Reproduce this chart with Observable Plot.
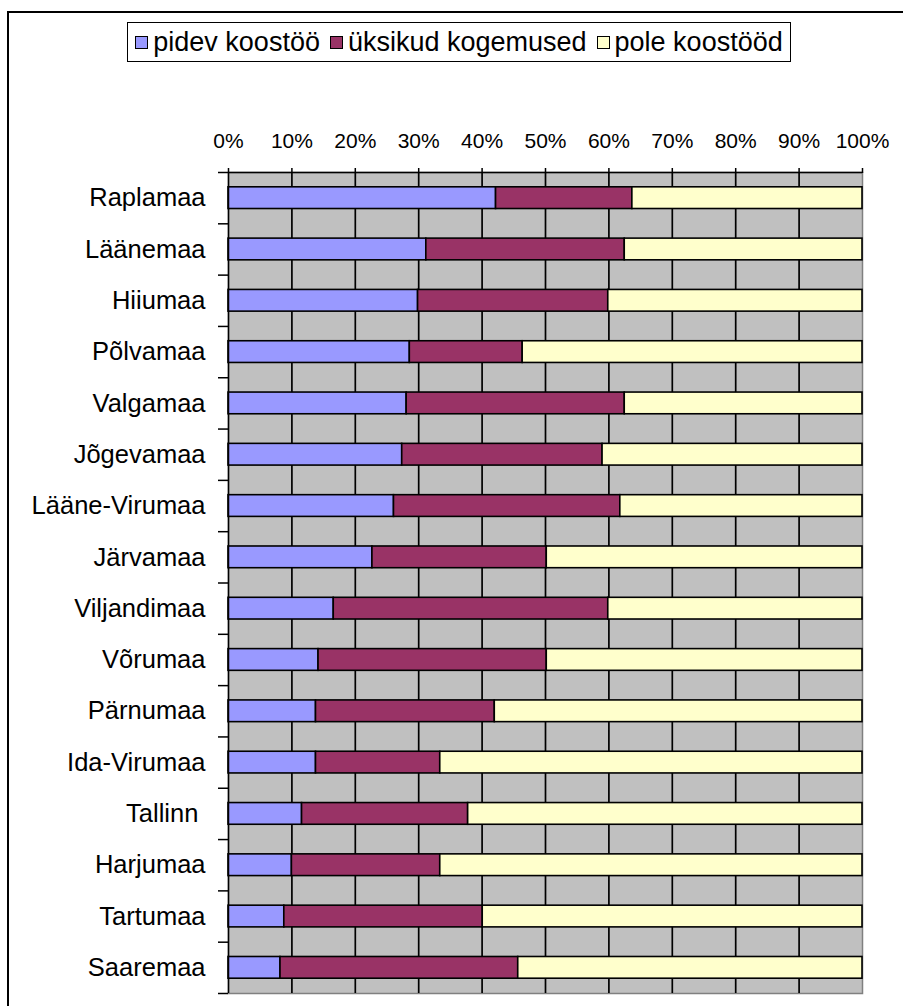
<!DOCTYPE html>
<html><head><meta charset="utf-8">
<script src="https://cdn.jsdelivr.net/npm/d3@7"></script>
<script src="https://cdn.jsdelivr.net/npm/@observablehq/plot@0.6"></script>
<style>
html,body{margin:0;padding:0;background:#fff;overflow:hidden;width:903px;height:1006px;}
#wrap{position:relative;width:903px;height:1006px;font-family:"Liberation Sans",Arial,sans-serif;color:#000;}
#chart{position:absolute;left:0;top:0;}
#frame{position:absolute;left:7px;top:11px;width:1000px;height:1100px;border:2px solid #000;pointer-events:none;}
#legend{position:absolute;left:127px;top:22px;width:662px;height:38px;border:1.5px solid #000;background:#fff;display:flex;align-items:center;justify-content:center;gap:0;font-size:27px;white-space:nowrap;}
#legend .item{display:flex;align-items:center;margin:0 5px;}
#legend .sw{display:inline-block;width:11px;height:11px;border:1.5px solid #000;margin-right:5px;}
</style></head>
<body><div id="wrap"><div id="chart"></div><div id="frame"></div><div id="legend"></div></div>
<script>
const categories = ["Raplamaa","Läänemaa","Hiiumaa","Põlvamaa","Valgamaa","Jõgevamaa","Lääne-Virumaa","Järvamaa","Viljandimaa","Võrumaa","Pärnumaa","Ida-Virumaa","Tallinn\u00a0","Harjumaa","Tartumaa","Saaremaa"];
const seriesNames = ["pidev koostöö","üksikud kogemused","pole koostööd"];
const seriesColors = ["#9999FF","#993366","#FFFFCC"];
const pidev   = [42.2,31.2,29.9,28.6,28.1,27.4,26.1,22.7,16.6,14.2,13.8,13.8,11.6,10.0,8.8,8.2];
const uksikud = [21.5,31.3,30.0,17.8,34.4,31.6,35.7,27.5,43.3,36.0,28.2,19.6,26.2,23.4,31.3,37.5];
const pole    = [36.3,37.5,40.1,53.6,37.5,41.0,38.2,49.8,40.1,49.8,58.0,66.6,62.2,66.6,59.9,54.3];
const xTicks = [0,0.1,0.2,0.3,0.4,0.5,0.6,0.7,0.8,0.9,1];

const seriesValues = [pidev, uksikud, pole];
const table = [];
categories.forEach((c, i) => {
  let acc = 0;
  seriesValues.forEach((vals, j) => {
    const v = vals[i] / 100;
    table.push({category: c, idx: i, series: seriesNames[j], x1: acc, x2: acc + v});
    acc += v;
  });
});

const chart = Plot.plot({
  width: 903, height: 1006,
  marginLeft: 228, marginRight: 41, marginTop: 172, marginBottom: 13,
  style: {fontFamily: "Liberation Sans, Arial, sans-serif", fontSize: "21px", color: "#000", background: "transparent"},
  x: {domain: [0, 1], axis: null},
  y: {domain: [0, categories.length], reverse: true, axis: null},
  color: {domain: seriesNames, range: seriesColors},
  marks: [
    Plot.frame({fill: "#C0C0C0", stroke: "#808080", strokeWidth: 1.5}),
    Plot.ruleX(xTicks.slice(1, -1), {stroke: "#000", strokeWidth: 1.7}),
    Plot.rect(table, {x1: "x1", x2: "x2", y1: "idx", y2: d => d.idx + 1, fill: "series", stroke: "#000", strokeWidth: 1.6, insetTop: 14.8, insetBottom: 14.8}),
    Plot.ruleX([0], {stroke: "#000", strokeWidth: 1.5}),
    Plot.ruleY([0], {stroke: "#000", strokeWidth: 1.5}),
    Plot.axisX({anchor: "top", ticks: xTicks, tickFormat: d3.format(".0%"), tickSize: 5, tickPadding: 20, fontSize: 21, strokeWidth: 1.5, label: null}),
    Plot.axisY({ticks: d3.range(categories.length + 1), tickSize: 10, tickFormat: () => "", strokeWidth: 1.5, label: null}),
    Plot.axisY({ticks: categories.map((c, i) => i + 0.5), tickFormat: v => categories[Math.floor(v)], tickSize: 0, tickPadding: 23, fontSize: 25.5, label: null})
  ]
});
document.getElementById("chart").appendChild(chart);

const legend = document.getElementById("legend");
seriesNames.forEach((name, j) => {
  const item = document.createElement("span");
  item.className = "item";
  const sw = document.createElement("span");
  sw.className = "sw";
  sw.style.background = seriesColors[j];
  const t = document.createElement("span");
  t.textContent = name;
  item.appendChild(sw); item.appendChild(t);
  legend.appendChild(item);
});
</script></body></html>
